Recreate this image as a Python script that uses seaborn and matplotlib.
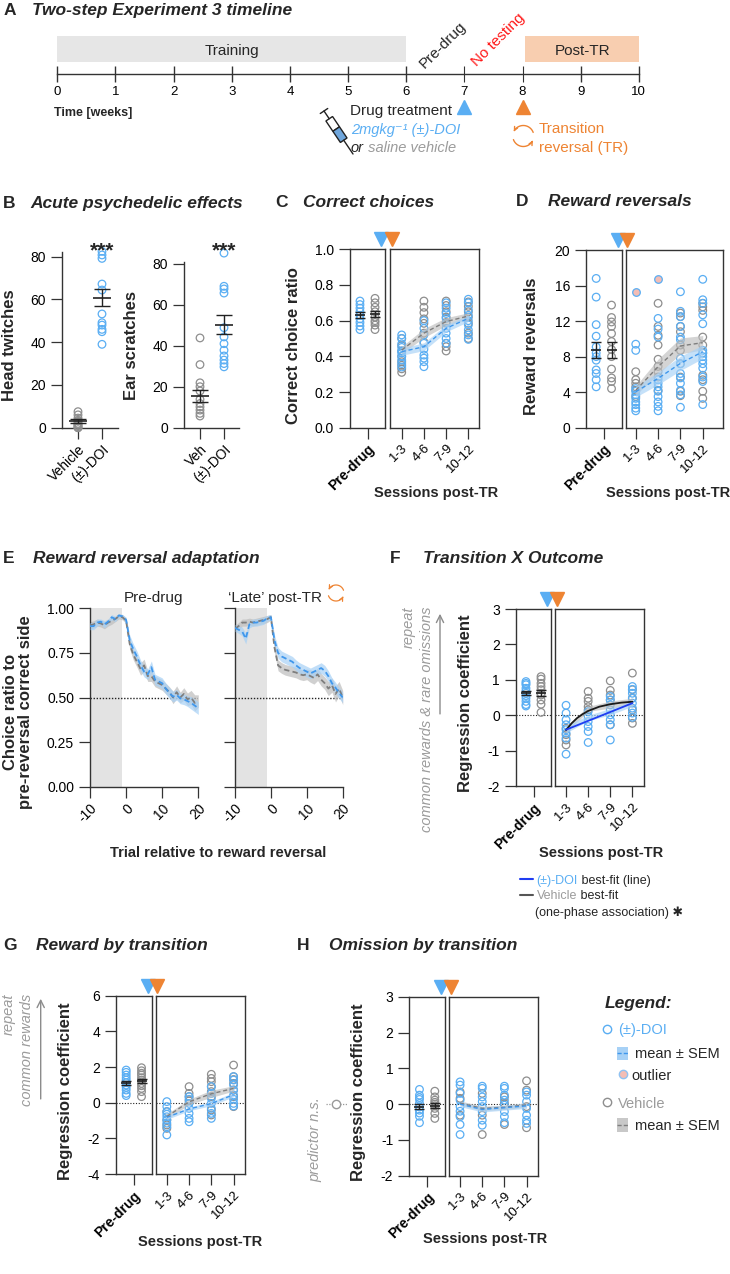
import numpy as np
import pandas as pd
import matplotlib
matplotlib.use('Agg')
import matplotlib.pyplot as plt
from matplotlib.patches import Rectangle, Polygon, FancyArrowPatch
from matplotlib.path import Path
import seaborn as sns

sns.set_theme(style='ticks')
plt.rcParams['font.family'] = ['Liberation Sans', 'DejaVu Sans']
plt.rcParams['axes.linewidth'] = 1.0
plt.rcParams['axes.edgecolor'] = '#333333'
plt.rcParams['xtick.color'] = '#333333'
plt.rcParams['ytick.color'] = '#333333'
plt.rcParams['xtick.labelcolor'] = 'black'
plt.rcParams['ytick.labelcolor'] = 'black'
plt.rcParams['xtick.labelsize'] = 10
plt.rcParams['ytick.labelsize'] = 10
plt.rcParams['xtick.major.size'] = 8
plt.rcParams['ytick.major.size'] = 8
plt.rcParams['xtick.major.width'] = 0.9
plt.rcParams['ytick.major.width'] = 0.9
plt.rcParams['xtick.major.pad'] = 2.5
plt.rcParams['ytick.major.pad'] = 3.5

BLUE = '#5AAEF3'
BLUE_LINE = '#3F97EC'
BLUE_BAND = '#A7D1F6'
GREY = '#8E8E8E'
GREY_LINE = '#7E7E7E'
GREY_BAND = '#BDBDBD'
ORANGE = '#EE8433'
PINK = '#F3BDB5'
FIT_BLUE = '#1F3DF2'
FIT_BLACK = '#1A1A1A'
TXT_GREY = '#9B9B9B'

# ---------------- A: timeline ----------------
weeks = list(range(11))
phase_names = ['Training', 'Post-TR']
phase_start = [0, 8.05]
phase_end = [6, 10]
phase_colors = ['#E6E6E6', '#F8CEB0']
drug_week = 7
reversal_week = 8

# ---------------- B: acute effects ----------------
b_groups = ['Vehicle', '(±)-DOI']
b_groups_short = ['Veh', '(±)-DOI']
twitch_veh = [7.5, 6, 4.5, 3.5, 3, 2, 1.5, 1, 0.5, 0, 0]
twitch_doi = [82.5, 80.8, 79.2, 67.2, 64.4, 53.2, 49.1, 48, 46, 44.9, 39]
twitch_mean = [3.1, 60.8]
twitch_sem = [0.8, 3.9]
scratch_veh = [43.8, 30.8, 21.9, 20, 17.9, 13.8, 11.8, 10.2, 8.6, 7, 5.7]
scratch_doi = [85.2, 69, 67.7, 65.7, 48.8, 44.3, 41, 37.8, 35, 33, 31.3, 29.7]
scratch_mean = [15.6, 50.3]
scratch_sem = [2.9, 4.7]

sessions = ['1-3', '4-6', '7-9', '10-12']

# ---------------- C: correct choices ----------------
c_pre_doi = [0.71, 0.69, 0.67, 0.65, 0.63, 0.61, 0.59, 0.57, 0.55]
c_pre_veh = [0.725, 0.70, 0.675, 0.65, 0.62, 0.60, 0.59, 0.575, 0.55]
c_pre_mean = [0.632, 0.638]
c_pre_sem = [0.016, 0.017]
c_post_veh = [[0.50, 0.46, 0.43, 0.40, 0.37, 0.35, 0.33, 0.31],
              [0.71, 0.675, 0.645, 0.61, 0.585, 0.53, 0.48],
              [0.71, 0.685, 0.65, 0.62, 0.59, 0.473, 0.454, 0.43],
              [0.705, 0.68, 0.65, 0.62, 0.585, 0.53, 0.50]]
c_post_doi = [[0.52, 0.50, 0.47, 0.45, 0.43, 0.42, 0.40, 0.38, 0.36, 0.34],
              [0.60, 0.557, 0.52, 0.473, 0.44, 0.407, 0.39, 0.37, 0.342],
              [0.70, 0.67, 0.64, 0.613, 0.585, 0.557, 0.53, 0.50, 0.473],
              [0.72, 0.70, 0.66, 0.63, 0.60, 0.576, 0.548, 0.52, 0.495]]
c_doi_mean = [0.426, 0.454, 0.557, 0.613]
c_doi_sem = [0.02, 0.022, 0.02, 0.018]
c_veh_mean = [0.435, 0.53, 0.595, 0.626]
c_veh_sem = [0.02, 0.025, 0.022, 0.018]

# ---------------- D: reward reversals ----------------
d_pre_doi = [16.8, 14.7, 11.6, 10.3, 9.1, 8.4, 8.0, 7.6, 6.5, 6.1, 5.4, 4.6]
d_pre_veh = [13.8, 12.4, 11.9, 11.4, 10.6, 9.7, 8.8, 8.0, 6.6, 5.6, 5.2, 4.4]
d_pre_mean = [8.74, 8.74]
d_pre_sem = [0.85, 0.85]
d_post_veh = [[6.3, 5.4, 5.0, 4.6, 4.2, 3.5],
              [14.0, 11.4, 10.4, 9.3, 7.7, 6.9, 6.3, 5.7, 4.2],
              [12.9, 12.5, 11.4, 10.8, 9.3, 8.7, 7.2, 5.7, 4.1, 3.6],
              [14.0, 13.6, 13.2, 10.2, 9.3, 8.4, 5.9, 5.4, 4.1, 3.3]]
d_post_doi = [[9.4, 8.7, 4.4, 4.1, 3.7, 3.3, 2.9, 2.6, 2.2, 1.9],
              [12.3, 11.1, 10.2, 5.4, 5.0, 4.6, 4.1, 3.5, 2.9, 2.4, 1.9],
              [15.3, 13.1, 12.5, 11.4, 10.2, 9.9, 7.8, 7.2, 6.1, 5.6, 5.0, 4.2, 3.7, 2.3],
              [16.7, 14.4, 14.0, 12.7, 11.7, 8.7, 8.4, 8.0, 7.6, 7.2, 6.7, 5.7, 5.2, 2.6]]
d_outlier_session = [0, 1]
d_outlier_value = [15.3, 16.7]
d_doi_mean = [4.05, 5.55, 7.24, 8.55]
d_doi_sem = [0.6, 0.7, 0.8, 0.75]
d_veh_mean = [4.2, 6.87, 9.2, 9.57]
d_veh_sem = [0.5, 0.85, 0.9, 0.8]

# ---------------- E: reward reversal adaptation ----------------
trials = list(range(-10, 21))
e_pre_doi = [0.90, 0.90, 0.92, 0.925, 0.91, 0.925, 0.95, 0.94, 0.96, 0.955, 0.935,
             0.82, 0.77, 0.73, 0.68, 0.645, 0.63, 0.67, 0.60, 0.59, 0.58,
             0.55, 0.525, 0.505, 0.515, 0.495, 0.49, 0.48, 0.47, 0.455, 0.44]
e_pre_doi_sem = [0.02, 0.02, 0.02, 0.015, 0.02, 0.015, 0.015, 0.015, 0.01, 0.01, 0.015,
                 0.03, 0.03, 0.03, 0.03, 0.03, 0.03, 0.035, 0.03, 0.03, 0.03,
                 0.03, 0.03, 0.03, 0.03, 0.03, 0.03, 0.03, 0.035, 0.035, 0.035]
e_pre_veh = [0.905, 0.91, 0.92, 0.915, 0.905, 0.92, 0.93, 0.94, 0.955, 0.95, 0.93,
             0.80, 0.74, 0.70, 0.66, 0.68, 0.62, 0.62, 0.59, 0.58, 0.57,
             0.55, 0.53, 0.50, 0.53, 0.50, 0.52, 0.49, 0.50, 0.47, 0.48]
e_pre_veh_sem = [0.02, 0.02, 0.02, 0.02, 0.02, 0.02, 0.02, 0.015, 0.015, 0.015, 0.015,
                 0.03, 0.03, 0.03, 0.035, 0.035, 0.03, 0.03, 0.03, 0.03, 0.03,
                 0.03, 0.03, 0.035, 0.035, 0.03, 0.035, 0.035, 0.04, 0.045, 0.035]
e_late_doi = [0.89, 0.88, 0.87, 0.83, 0.91, 0.92, 0.92, 0.925, 0.93, 0.945, 0.95,
              0.82, 0.75, 0.73, 0.72, 0.71, 0.70, 0.68, 0.665, 0.655, 0.645,
              0.635, 0.645, 0.655, 0.665, 0.65, 0.62, 0.58, 0.555, 0.525, 0.50]
e_late_doi_sem = [0.02, 0.02, 0.025, 0.03, 0.02, 0.02, 0.02, 0.02, 0.02, 0.015, 0.015,
                  0.03, 0.03, 0.03, 0.03, 0.03, 0.03, 0.03, 0.03, 0.03, 0.03,
                  0.03, 0.03, 0.03, 0.03, 0.03, 0.03, 0.03, 0.03, 0.03, 0.03]
e_late_veh = [0.885, 0.90, 0.92, 0.92, 0.925, 0.92, 0.925, 0.93, 0.935, 0.94, 0.95,
              0.78, 0.68, 0.665, 0.655, 0.65, 0.645, 0.64, 0.63, 0.625, 0.63,
              0.62, 0.61, 0.63, 0.60, 0.58, 0.55, 0.57, 0.52, 0.55, 0.50]
e_late_veh_sem = [0.02, 0.02, 0.02, 0.02, 0.02, 0.02, 0.02, 0.02, 0.02, 0.02, 0.015,
                  0.03, 0.03, 0.03, 0.03, 0.03, 0.03, 0.03, 0.03, 0.03, 0.03,
                  0.035, 0.035, 0.035, 0.035, 0.035, 0.04, 0.04, 0.045, 0.04, 0.04]

# ---------------- F: transition x outcome ----------------
f_pre_doi = [0.95, 0.9, 0.86, 0.76, 0.68, 0.62, 0.55, 0.48, 0.39, 0.3, 0.26]
f_pre_veh = [1.09, 1.02, 0.9, 0.81, 0.72, 0.62, 0.57, 0.43, 0.31, 0.08]
f_pre_mean = [0.62, 0.62]
f_pre_sem = [0.06, 0.08]
f_post_veh = [[-0.37, -0.55, -0.70, -0.84],
              [0.67, 0.48, 0.39, 0.24, 0.15],
              [0.97, 0.70, 0.57, 0.43, -0.27],
              [1.19, 0.72, 0.48, 0.15, -0.08, -0.23]]
f_post_doi = [[0.28, 0.06, -0.13, -0.27, -0.41, -0.51, -0.65, -1.1],
              [0.10, -0.04, -0.18, -0.32, -0.46, -0.77],
              [0.53, 0.43, 0.29, 0.15, 0.01, -0.13, -0.27, -0.70],
              [0.81, 0.73, 0.62, 0.48, 0.34, 0.20, 0.06, -0.06]]
f_doi_mean = [-0.40, -0.08, 0.10, 0.33]
f_doi_sem = [0.1, 0.08, 0.09, 0.08]
f_veh_mean = [-0.40, 0.18, 0.30, 0.38]
f_veh_sem = [0.08, 0.07, 0.1, 0.1]
f_doi_fit_x = [0, 3]
f_doi_fit_y = [-0.41, 0.34]
f_veh_fit_x = [0, 0.25, 0.5, 0.75, 1, 1.5, 2, 2.5, 3]
f_veh_fit_y = [-0.42, -0.23, -0.08, 0.03, 0.12, 0.24, 0.31, 0.355, 0.38]

# ---------------- G: reward by transition ----------------
g_pre_doi = [1.83, 1.7, 1.55, 1.4, 1.27, 1.12, 0.99, 0.85, 0.71, 0.52, 0.4]
g_pre_veh = [1.96, 1.79, 1.65, 1.55, 1.4, 1.27, 1.08, 0.95, 0.80, 0.62, 0.34]
g_pre_mean = [1.12, 1.21]
g_pre_sem = [0.11, 0.13]
g_post_veh = [[-0.5, -0.97, -1.25, -1.44],
              [0.9, 0.52, 0.34, 0.1],
              [1.59, 1.36, 1.18, 0.9, 0.62, 0.34, -0.41, -0.69],
              [2.11, 1.46, 1.3, 1.08, 0.71, 0.34, -0.22]]
g_post_doi = [[0.06, -0.22, -0.5, -0.65, -0.79, -0.97, -1.15, -1.35, -1.81],
              [0.34, 0.19, -0.04, -0.32, -0.6, -0.88, -1.07],
              [0.9, 0.52, 0.24, -0.04, -0.32, -0.6, -0.88],
              [1.46, 1.27, 0.99, 0.71, 0.43, 0.19, -0.04, -0.19]]
g_doi_mean = [-0.82, -0.35, -0.05, 0.45]
g_doi_sem = [0.12, 0.1, 0.12, 0.12]
g_veh_mean = [-0.78, 0.05, 0.5, 0.8]
g_veh_sem = [0.15, 0.15, 0.2, 0.15]

# ---------------- H: omission by transition ----------------
h_pre_doi = [0.41, 0.25, 0.18, 0.13, 0.02, -0.08, -0.17, -0.25, -0.34, -0.52]
h_pre_veh = [0.36, 0.2, 0.11, 0.05, 0.0, -0.05, -0.12, -0.26, -0.4]
h_pre_mean = [-0.07, -0.04]
h_pre_sem = [0.07, 0.06]
h_post_veh = [[0.34, 0.16, -0.31],
              [0.3, -0.31, -0.85],
              [0.2, 0.02, -0.57],
              [0.65, 0.39, -0.07, -0.66]]
h_post_doi = [[0.62, 0.53, 0.3, 0.11, -0.07, -0.2, -0.35, -0.57, -0.85],
              [0.5, 0.44, 0.2, 0.07, -0.07, -0.21, -0.45, -0.59],
              [0.5, 0.44, 0.25, 0.11, -0.03, -0.21, -0.35, -0.52],
              [0.34, 0.25, 0.07, -0.12, -0.31, -0.45, -0.54]]
h_doi_mean = [0.0, -0.15, -0.1, -0.05]
h_doi_sem = [0.07, 0.07, 0.07, 0.07]
h_veh_mean = [0.03, -0.12, -0.09, -0.02]
h_veh_sem = [0.06, 0.06, 0.06, 0.06]

# =====================================================================
W, H = 730, 1274
fig = plt.figure(figsize=(W / 100, H / 100), dpi=100)


def px_axes(l, t, r, b):
    return fig.add_axes([l / W, 1 - b / H, (r - l) / W, (b - t) / H])


ov = fig.add_axes([0, 0, 1, 1])
ov.set_xlim(0, W)
ov.set_ylim(H, 0)
ov.axis('off')
ov.set_zorder(20)
ov.patch.set_visible(False)


def base(yc, size):
    return yc + 0.358 * size * 100 / 72


def txt(x, yc, s, size, **kw):
    return ov.text(x, base(yc, size), s, fontsize=size, va='baseline', **kw)


def chain(prev, s, size, **kw):
    return ov.annotate(s, xy=(1, 0), xycoords=prev, va='bottom', fontsize=size, **kw)


def title(xl, xt, yc, letter, s):
    txt(xl, yc, letter, 12.5, fontweight='bold')
    txt(xt, yc, s, 12.5, fontweight='bold', fontstyle='italic')


def ylab(x, y, s, size=12, **kw):
    ov.text(x, y, s, rotation=90, ha='center', va='center', fontsize=size,
            fontweight='bold', **kw)


def xlab(x, y, s):
    ov.text(x, y, s, ha='center', va='center', fontsize=10.5, fontweight='bold')


def dots(ax, x, ys, color, fill='none', z=3):
    sns.scatterplot(x=[x] * len(ys), y=ys, ax=ax, s=30, color=color, facecolor=fill,
                    edgecolor=color, linewidth=0.9, legend=False, zorder=z, clip_on=False)


def mean_sem(ax, x, m, s, w=7, cap=3.5):
    ax.errorbar([x], [m], yerr=[s], fmt='none', ecolor='#222222', elinewidth=1,
                capsize=cap, capthick=1, zorder=8)
    ax.plot([x], [m], marker='_', ms=w, mew=1.2, color='#222222', zorder=8)


def cycle_icon(cx, cy, r, color, lw=1.0):
    for a0, a1 in [(200, 335), (20, 155)]:
        th = np.radians(np.linspace(a0, a1, 24))
        pts = np.column_stack([cx + r * np.cos(th), cy - r * np.sin(th)])
        ov.add_patch(FancyArrowPatch(path=Path(pts), arrowstyle='->', mutation_scale=6,
                                     color=color, lw=lw))


def syringe(x0, y0, x1, y1):
    p0 = np.array([x0, y0]); p1 = np.array([x1, y1])
    L = np.hypot(*(p1 - p0)); d = (p1 - p0) / L; n = np.array([-d[1], d[0]])
    a, b = p0 + n * 4.5, p0 - n * 4.5
    ov.plot([a[0], b[0]], [a[1], b[1]], color='#222222', lw=1)
    q = p0 + d * L * 0.18
    ov.plot([p0[0], q[0]], [p0[1], q[1]], color='#222222', lw=1)
    bs, bm, be = p0 + d * L * 0.18, p0 + d * L * 0.42, p0 + d * L * 0.68
    ov.add_patch(Polygon([bs + n * 4, bm + n * 4, bm - n * 4, bs - n * 4],
                         facecolor='white', edgecolor='#222222', lw=1))
    ov.add_patch(Polygon([bm + n * 4, be + n * 4, be - n * 4, bm - n * 4],
                         facecolor='#6FA6DC', edgecolor='#222222', lw=1))
    ov.plot([be[0], p1[0]], [be[1], p1[1]], color='#222222', lw=1)


# ---------------- A ----------------
title(3.3, 31.7, 8.3, 'A', 'Two-step Experiment 3 timeline')
ax_a = px_axes(57.3, 0, 638.8, 190)
ax_a.set_xlim(0, 10)
ax_a.set_ylim(190, 0)
ax_a.set_facecolor('none')
for sp in ['left', 'right', 'top']:
    ax_a.spines[sp].set_visible(False)
ax_a.spines['bottom'].set_position(('data', 74))
ax_a.set_yticks([])
ax_a.set_xticks(weeks)
ax_a.set_xticklabels([str(w) for w in weeks], fontsize=9.5)
ax_a.tick_params(axis='x', direction='inout', length=11.5, width=1, pad=3)
ticks = ax_a.xaxis.get_major_ticks()
ticks[drug_week].tick1line.set_color(BLUE)
ticks[drug_week].tick1line.set_markeredgewidth(0.8)
ticks[reversal_week].tick1line.set_color(ORANGE)
ticks[reversal_week].tick1line.set_markeredgewidth(0.8)
for name, s0, s1, col in zip(phase_names, phase_start, phase_end, phase_colors):
    ax_a.add_patch(Rectangle((s0, 36), s1 - s0, 25.5, facecolor=col, edgecolor='none'))
    ax_a.text((s0 + s1) / 2, base(49.3, 11), name, ha='center', va='baseline', fontsize=11)
ax_a.plot([drug_week], [107.3], marker='^', ms=10.5, color=BLUE, clip_on=False)
ax_a.plot([reversal_week], [107.3], marker='^', ms=10.5, color=ORANGE, clip_on=False)
ov.text(443.3, 45, 'Pre-drug', rotation=45, ha='center', va='center', fontsize=11)
ov.text(498.3, 40, 'No testing', rotation=45, ha='center', va='center', fontsize=11,
        color='#FF1A1A')
txt(54, 111.7, 'Time [weeks]', 9, fontweight='bold')
txt(452.3, 110, 'Drug treatment', 11, ha='right')
txt(351, 128.3, '2mgkg⁻¹ (±)-DOI', 10.5, color=BLUE, fontstyle='italic')
t_or = txt(351, 146.7, 'or', 10.5, fontstyle='italic')
chain(t_or, ' saline vehicle', 10.5, color=TXT_GREY, fontstyle='italic')
syringe(324, 111, 353, 154)
cycle_icon(523.3, 136, 10.5, ORANGE)
txt(539, 127.7, 'Transition', 11, color=ORANGE)
txt(539, 146.7, 'reversal (TR)', 11, color=ORANGE)

# ---------------- B ----------------
title(3.3, 30, 201.7, 'B', 'Acute psychedelic effects')
b_sets = [((62, 252.4, 118, 427.7), (0, 82), (-0.667, 1.667), twitch_veh, twitch_doi,
           twitch_mean, twitch_sem, b_groups, 'Head twitches', (9.2, 345)),
          ((184, 261.7, 239, 427.7), (0, 81), (-0.667, 1.625), scratch_veh, scratch_doi,
           scratch_mean, scratch_sem, b_groups_short, 'Ear scratches', (131.8, 345))]
for box, yl, xl, veh, doi, mean, sem, labels, lab, lxy in b_sets:
    ax = px_axes(*box)
    sns.despine(ax=ax)
    ax.set_facecolor('none')
    dots(ax, 0, veh, GREY)
    dots(ax, 1, doi, BLUE)
    for i in range(2):
        mean_sem(ax, i, mean[i], sem[i], w=13, cap=5.5)
    ax.set_ylim(yl)
    ax.set_xlim(xl)
    ax.set_yticks([0, 20, 40, 60, 80])
    ax.set_xticks([0, 1])
    ax.set_xticklabels(labels, rotation=45, ha='right', rotation_mode='anchor', fontsize=10)
    ylab(lxy[0], lxy[1], lab)
    x_star = ax.transData.transform((1, 0))[0]
    ov.text(x_star, 256, '***', ha='center', va='baseline', fontsize=15, fontweight='bold')

# ---------------- split panels C, D, F, G, H ----------------
PRE_X = [-0.43, 0.43]


def split_panel(d, lay):
    pre = px_axes(*lay['pre'])
    post = px_axes(*lay['post'])
    for ax in (pre, post):
        ax.set_facecolor('none')
        for sp in ax.spines.values():
            sp.set_visible(True)
        if d.get('zero'):
            ax.axhline(0, color='#222222', ls=(0, (1, 1.5)), lw=0.8, zorder=1)
    dots(pre, PRE_X[0], d['pre_doi'], BLUE)
    dots(pre, PRE_X[1], d['pre_veh'], GREY)
    for i in range(2):
        mean_sem(pre, PRE_X[i], d['pre_mean'][i], d['pre_sem'][i])
    for i in range(4):
        dots(post, i, d['post_veh'][i], GREY, z=3)
    for i in range(4):
        dots(post, i, d['post_doi'][i], BLUE, z=4)
    if 'out_x' in d:
        for sx, sv in zip(d['out_x'], d['out_y']):
            dots(post, sx, [sv], BLUE, fill=PINK, z=4)
    xs = np.arange(4)
    for m, s, band, line, z in [(d['veh_mean'], d['veh_sem'], GREY_BAND, GREY_LINE, 5),
                                (d['doi_mean'], d['doi_sem'], BLUE_BAND, BLUE_LINE, 6)]:
        m = np.array(m); s = np.array(s)
        post.fill_between(xs, m - s, m + s, color=band, alpha=0.65, lw=0, zorder=z)
        if d.get('dashed', True):
            sns.lineplot(x=xs, y=m, ax=post, color=line, lw=1.0, ls=(0, (3, 2)), zorder=z + 2)
    for fx, fy, col in d.get('fits', []):
        sns.lineplot(x=fx, y=fy, ax=post, color=col, lw=1.3, zorder=9)
    for ax in (pre, post):
        ax.set_ylim(d['ylim'])
        ax.set_xlabel('')
        ax.set_ylabel('')
    pre.set_xlim(-1, 1)
    post.set_xlim(*lay['xlim'])
    pre.set_yticks(d['yticks'])
    pre.set_yticklabels(d['yticklabels'])
    pre.set_xticks([0])
    pre.set_xticklabels(['Pre-drug'], rotation=45, ha='right', rotation_mode='anchor',
                        fontweight='bold', fontsize=10)
    post.set_xticks(xs)
    post.set_xticklabels(sessions, rotation=45, ha='right', rotation_mode='anchor',
                         fontsize=9.5)
    post.tick_params(axis='y', left=False, labelleft=False)
    l, t, r, b = lay['pre']
    pl = lay['post'][0]
    ov.plot(r - 3.7, t - 10, marker='v', ms=10.5, color=BLUE)
    ov.plot(pl + 1.7, t - 10, marker='v', ms=10.5, color=ORANGE)
    ylab(*lay['ylab'], d['ylabel'])
    xlab(*lay['xlab'], 'Sessions post-TR')
    return pre, post


panel_c = dict(pre_doi=c_pre_doi, pre_veh=c_pre_veh, pre_mean=c_pre_mean, pre_sem=c_pre_sem,
               post_doi=c_post_doi, post_veh=c_post_veh, doi_mean=c_doi_mean,
               doi_sem=c_doi_sem, veh_mean=c_veh_mean, veh_sem=c_veh_sem, ylim=(0, 1),
               yticks=[0, 0.2, 0.4, 0.6, 0.8, 1.0],
               yticklabels=['0.0', '0.2', '0.4', '0.6', '0.8', '1.0'],
               ylabel='Correct choice ratio')
panel_d = dict(pre_doi=d_pre_doi, pre_veh=d_pre_veh, pre_mean=d_pre_mean, pre_sem=d_pre_sem,
               post_doi=d_post_doi, post_veh=d_post_veh, doi_mean=d_doi_mean,
               doi_sem=d_doi_sem, veh_mean=d_veh_mean, veh_sem=d_veh_sem, ylim=(0, 20),
               yticks=[0, 4, 8, 12, 16, 20], yticklabels=['0', '4', '8', '12', '16', '20'],
               out_x=d_outlier_session, out_y=d_outlier_value, ylabel='Reward reversals')
panel_f = dict(pre_doi=f_pre_doi, pre_veh=f_pre_veh, pre_mean=f_pre_mean, pre_sem=f_pre_sem,
               post_doi=f_post_doi, post_veh=f_post_veh, doi_mean=f_doi_mean,
               doi_sem=f_doi_sem, veh_mean=f_veh_mean, veh_sem=f_veh_sem, ylim=(-2, 3),
               yticks=[-2, -1, 0, 1, 2, 3], yticklabels=['-2', '-1', '0', '1', '2', '3'],
               zero=True, dashed=False,
               fits=[(f_veh_fit_x, f_veh_fit_y, FIT_BLACK), (f_doi_fit_x, f_doi_fit_y, FIT_BLUE)],
               ylabel='Regression coefficient')
panel_g = dict(pre_doi=g_pre_doi, pre_veh=g_pre_veh, pre_mean=g_pre_mean, pre_sem=g_pre_sem,
               post_doi=g_post_doi, post_veh=g_post_veh, doi_mean=g_doi_mean,
               doi_sem=g_doi_sem, veh_mean=g_veh_mean, veh_sem=g_veh_sem, ylim=(-4, 6),
               yticks=[-4, -2, 0, 2, 4, 6], yticklabels=['-4', '-2', '0', '2', '4', '6'],
               zero=True, ylabel='Regression coefficient')
panel_h = dict(pre_doi=h_pre_doi, pre_veh=h_pre_veh, pre_mean=h_pre_mean, pre_sem=h_pre_sem,
               post_doi=h_post_doi, post_veh=h_post_veh, doi_mean=h_doi_mean,
               doi_sem=h_doi_sem, veh_mean=h_veh_mean, veh_sem=h_veh_sem, ylim=(-2, 3),
               yticks=[-2, -1, 0, 1, 2, 3], yticklabels=['-2', '-1', '0', '1', '2', '3'],
               zero=True, ylabel='Regression coefficient')

title(275, 303.3, 200.7, 'C', 'Correct choices')
split_panel(panel_c, dict(pre=(350, 249.3, 385, 427.7), post=(390, 249.3, 479, 427.7),
                          xlim=(-0.527, 3.48), ylab=(293.3, 345.8), xlab=(436.5, 493.3)))
title(516, 548.3, 200, 'D', 'Reward reversals')
split_panel(panel_d, dict(pre=(586, 250, 621.7, 427.7), post=(625.7, 250, 723.3, 427.7),
                          xlim=(-0.45, 3.92), ylab=(531.7, 346.7), xlab=(668.3, 493.3)))
title(390, 423.3, 556.7, 'F', 'Transition X Outcome')
split_panel(panel_f, dict(pre=(516, 609, 551, 786), post=(555, 609, 644.3, 786),
                          xlim=(-0.5, 3.54), ylab=(465.8, 703), xlab=(600.8, 853.3)))
title(3.3, 36, 943.3, 'G', 'Reward by transition')
split_panel(panel_g, dict(pre=(116, 995.7, 151.7, 1174), post=(155.7, 995.7, 244.7, 1174),
                          xlim=(-0.5, 3.5), ylab=(65.5, 1091), xlab=(200.5, 1241.7)))
title(296.7, 329.3, 943.3, 'H', 'Omission by transition')
split_panel(panel_h, dict(pre=(409.3, 996.7, 445, 1175.7), post=(449, 996.7, 538.3, 1175.7),
                          xlim=(-0.5, 3.53), ylab=(358.3, 1092), xlab=(485.5, 1239.3)))

# ---------------- E ----------------
title(3.3, 33.3, 556.7, 'E', 'Reward reversal adaptation')
e_sets = [((90, 608.3, 198.3, 786.7), e_pre_doi, e_pre_doi_sem, e_pre_veh, e_pre_veh_sem, True),
          ((235, 608.3, 342.7, 786.7), e_late_doi, e_late_doi_sem, e_late_veh, e_late_veh_sem, False)]
tr = np.array(trials)
for box, doi, dsem, veh, vsem, lab in e_sets:
    ax = px_axes(*box)
    sns.despine(ax=ax)
    ax.set_facecolor('none')
    ax.axvspan(-10, -1, color='#E3E3E3', lw=0, zorder=0)
    ax.axhline(0.5, color='#222222', ls=(0, (1, 1.2)), lw=1.0, zorder=1)
    for m, s, band, line, z in [(veh, vsem, GREY_BAND, GREY_LINE, 2), (doi, dsem, BLUE_BAND, BLUE_LINE, 3)]:
        m = np.array(m); s = np.array(s)
        ax.fill_between(tr, m - s, m + s, color=band, alpha=0.7, lw=0, zorder=z)
        sns.lineplot(x=tr, y=m, ax=ax, color=line, lw=1.3, ls=(0, (3, 1.8)), zorder=z + 2)
    ax.set_xlim(-10, 20)
    ax.set_ylim(0, 1)
    ax.set_xticks([-10, 0, 10, 20])
    ax.set_xticklabels(['-10', '0', '10', '20'], rotation=45, ha='right',
                       rotation_mode='anchor', fontsize=10)
    ax.set_yticks([0, 0.25, 0.5, 0.75, 1.0])
    if lab:
        ax.set_yticklabels(['0.00', '0.25', '0.50', '0.75', '1.00'])
    else:
        ax.set_yticklabels([])
txt(153.3, 596.7, 'Pre-drug', 11, ha='center')
txt(275.5, 596.7, '‘Late’ post-TR', 11, ha='center')
cycle_icon(336, 593, 8, ORANGE, lw=0.9)
ov.text(18, 712, 'Choice ratio to\npre-reversal correct side', rotation=90, ha='center',
        va='center', fontsize=12, fontweight='bold', linespacing=1.0, multialignment='center')
xlab(217.7, 853.3, 'Trial relative to reward reversal')

# F side annotation and fit legend
ov.add_patch(FancyArrowPatch((440, 716.7), (440, 611), arrowstyle='->', mutation_scale=13,
                             color='#8C8C8C', lw=1))
ov.text(408.3, 607, 'repeat', rotation=90, ha='center', va='top', fontsize=10.5,
        fontstyle='italic', color=TXT_GREY)
ov.text(426.7, 607, 'common rewards & rare omissions', rotation=90, ha='center', va='top',
        fontsize=10.5, fontstyle='italic', color=TXT_GREY)
ov.plot([520, 533], [879.3, 879.3], color=FIT_BLUE, lw=1.5)
t1 = txt(536.7, 879.3, '(±)-DOI', 9, color=BLUE)
chain(t1, ' best-fit (line)', 9)
ov.plot([520, 533], [895, 895], color='#555555', lw=1.5)
t2 = txt(536.7, 895, 'Vehicle', 9, color=TXT_GREY)
chain(t2, ' best-fit', 9)
t3 = txt(535, 911.7, '(one-phase association)', 9)
chain(t3, ' ✱', 9, fontweight='bold')

# G side annotation
ov.add_patch(FancyArrowPatch((40.7, 1101.7), (40.7, 996), arrowstyle='->', mutation_scale=13,
                             color='#8C8C8C', lw=1))
ov.text(8.3, 993.3, 'repeat', rotation=90, ha='center', va='top', fontsize=10.5,
        fontstyle='italic', color=TXT_GREY)
ov.text(26.7, 993.3, 'common rewards', rotation=90, ha='center', va='top', fontsize=10.5,
        fontstyle='italic', color=TXT_GREY)

# H side annotation
ov.text(315, 1096.7, 'predictor n.s.', rotation=90, ha='center', va='top', fontsize=10.5,
        fontstyle='italic', color=TXT_GREY)
ov.plot([326, 347], [1104.3, 1104.3], color='#999999', ls=(0, (1, 1.2)), lw=0.9)
ov.plot([336], [1104.3], marker='o', ms=6, mfc='white', mec='#999999', mew=1)

# Legend
txt(605, 1001.7, 'Legend:', 12.5, fontweight='bold', fontstyle='italic')
ov.plot([607.3], [1029], marker='o', ms=6, mfc='none', mec=BLUE, mew=1)
txt(618.3, 1029, '(±)-DOI', 10.5, color=BLUE)
ov.add_patch(Rectangle((616.7, 1046.5), 11.6, 13.5, facecolor=BLUE_BAND, edgecolor='none'))
ov.plot([617, 628.3], [1053.2, 1053.2], color=BLUE_LINE, ls=(0, (3, 1.5)), lw=1)
txt(635, 1052.7, 'mean ± SEM', 10.5)
ov.plot([622.7], [1074.3], marker='o', ms=6, mfc=PINK, mec='#8FC2F2', mew=1)
txt(631.7, 1074.3, 'outlier', 10.5)
ov.plot([607.3], [1102.3], marker='o', ms=6, mfc='none', mec=GREY, mew=1)
txt(618.3, 1102.3, 'Vehicle', 10.5, color=TXT_GREY)
ov.add_patch(Rectangle((616.7, 1118), 11.6, 14, facecolor='#C8C8C8', edgecolor='none'))
ov.plot([617, 628.3], [1125, 1125], color=GREY_LINE, ls=(0, (3, 1.5)), lw=1)
txt(635, 1125, 'mean ± SEM', 10.5)

fig.savefig('out.png', dpi=100)
